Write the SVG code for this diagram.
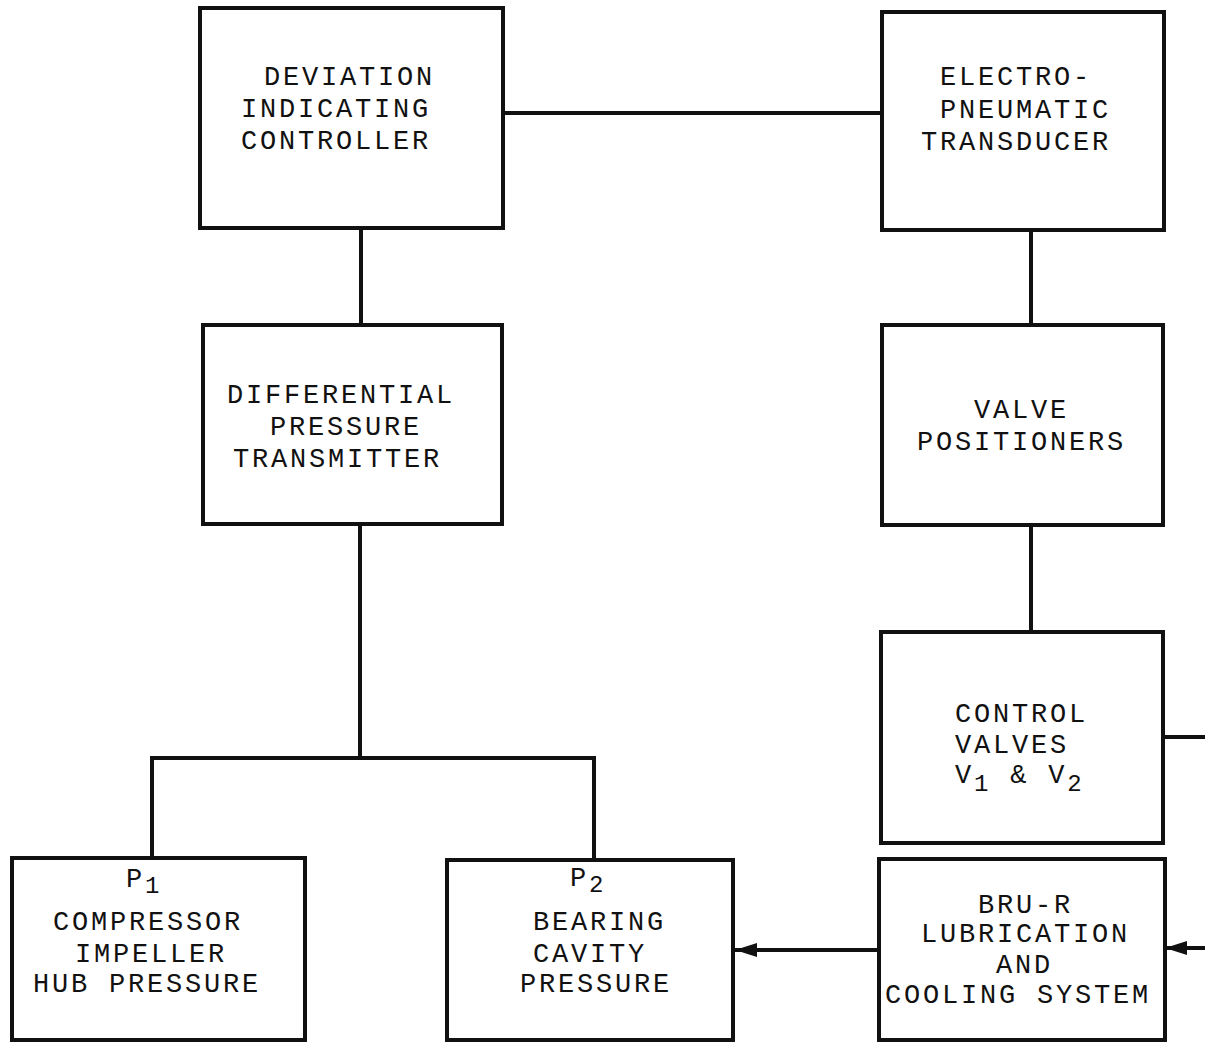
<svg xmlns="http://www.w3.org/2000/svg" width="1205" height="1043" viewBox="0 0 1205 1043">
<style>
.box{fill:#fff;stroke:#111;stroke-width:4}
.ln{fill:none;stroke:#111;stroke-width:4}
text{font-family:"Liberation Mono","Courier New",monospace;font-size:27px;letter-spacing:2.8px;fill:#111}
.sub{font-size:24px}
</style>
<defs>
<marker id="ah" viewBox="0 0 22 14" refX="22" refY="7" markerWidth="22" markerHeight="14" markerUnits="userSpaceOnUse" orient="auto">
<path d="M0,0 L22,7 L0,14 Z" fill="#111"/>
</marker>
</defs>
<rect width="1205" height="1043" fill="#fff"/>
<g id="connectors">
<path class="ln" d="M503,113 H882"/>
<path class="ln" d="M361,228 V325"/>
<path class="ln" d="M1031,230 V325"/>
<path class="ln" d="M360,524 V758"/>
<path class="ln" d="M152,858 V758 H594 V860"/>
<path class="ln" d="M1031,525 V632"/>
<path class="ln" d="M1163,737 H1205"/>
<path class="ln" d="M1205,948 H1165" marker-end="url(#ah)"/>
<path class="ln" d="M879,950 H735" marker-end="url(#ah)"/>
</g>
<g id="deviation-indicating-controller">
<rect class="box" x="200" y="8" width="303" height="220"/>
<text x="264" y="85">DEVIATION</text>
<text x="241" y="117">INDICATING</text>
<text x="241" y="149">CONTROLLER</text>
</g>
<g id="electro-pneumatic-transducer">
<rect class="box" x="882" y="12" width="282" height="218"/>
<text x="940" y="85">ELECTRO-</text>
<text x="940" y="118">PNEUMATIC</text>
<text x="921" y="150">TRANSDUCER</text>
</g>
<g id="differential-pressure-transmitter">
<rect class="box" x="203" y="325" width="299" height="199"/>
<text x="227" y="403">DIFFERENTIAL</text>
<text x="270" y="435">PRESSURE</text>
<text x="233" y="467">TRANSMITTER</text>
</g>
<g id="valve-positioners">
<rect class="box" x="882" y="325" width="281" height="200"/>
<text x="974" y="418">VALVE</text>
<text x="917" y="450">POSITIONERS</text>
</g>
<g id="control-valves">
<rect class="box" x="881" y="632" width="282" height="211"/>
<text x="955" y="722">CONTROL</text>
<text x="955" y="753">VALVES</text>
<text x="955" y="783">V<tspan class="sub" dy="8">1</tspan><tspan dy="-8"> &amp; V</tspan><tspan class="sub" dy="8">2</tspan></text>
</g>
<g id="p1-compressor-impeller-hub-pressure">
<rect class="box" x="12" y="858" width="293" height="182"/>
<text x="126" y="887">P<tspan class="sub" dy="6">1</tspan></text>
<text x="53" y="930">COMPRESSOR</text>
<text x="75" y="962">IMPELLER</text>
<text x="33" y="992">HUB PRESSURE</text>
</g>
<g id="p2-bearing-cavity-pressure">
<rect class="box" x="447" y="860" width="286" height="180"/>
<text x="570" y="886">P<tspan class="sub" dy="6">2</tspan></text>
<text x="533" y="930">BEARING</text>
<text x="533" y="962">CAVITY</text>
<text x="520" y="992">PRESSURE</text>
</g>
<g id="bru-r-lubrication-and-cooling-system">
<rect class="box" x="879" y="859" width="286" height="181"/>
<text x="978" y="913">BRU-R</text>
<text x="921" y="942">LUBRICATION</text>
<text x="996" y="973">AND</text>
<text x="885" y="1003">COOLING SYSTEM</text>
</g>
</svg>
